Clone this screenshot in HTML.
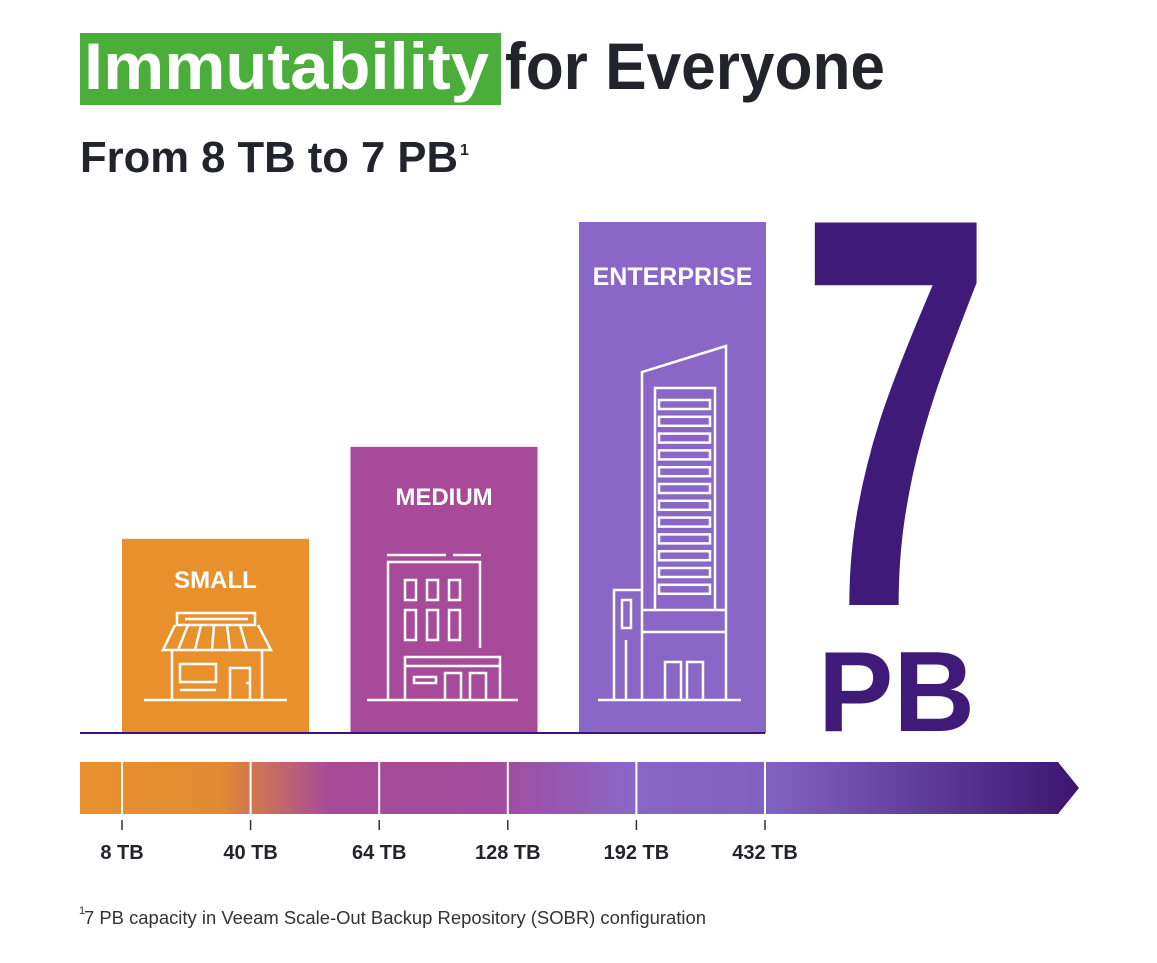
<!DOCTYPE html>
<html><head><meta charset="utf-8"><style>
html,body{margin:0;padding:0;background:#fff;}
svg{display:block;font-family:"Liberation Sans",sans-serif;}
</style></head><body>
<svg id="chart" width="1157" height="963" viewBox="0 0 1157 963">
<defs>
<linearGradient id="band" x1="80" x2="1079" y1="0" y2="0" gradientUnits="userSpaceOnUse">
<stop offset="0" stop-color="#E8912C"/>
<stop offset="0.14" stop-color="#E28A33"/>
<stop offset="0.25" stop-color="#A84A98"/>
<stop offset="0.42" stop-color="#A24C9E"/>
<stop offset="0.55" stop-color="#8A66C6"/>
<stop offset="0.70" stop-color="#8060C0"/>
<stop offset="1" stop-color="#3D1570"/>
</linearGradient>
</defs>
<rect x="80" y="33" width="421" height="72" fill="#4BAE3A"/>
<text x="84" y="89" font-size="66" font-weight="bold" fill="#fff" textLength="405" lengthAdjust="spacingAndGlyphs">Immutability</text>
<text x="505" y="89" font-size="66" font-weight="bold" fill="#23232b" textLength="380" lengthAdjust="spacingAndGlyphs">for Everyone</text>
<text x="80" y="172" font-size="44" font-weight="bold" fill="#23232b" textLength="378" lengthAdjust="spacingAndGlyphs">From 8 TB to 7 PB</text>
<text x="460" y="155" font-size="16" font-weight="bold" fill="#23232b">1</text>

<g id="bars"></g>
<line x1="80" y1="733" x2="765" y2="733" stroke="#3D1570" stroke-width="2"/>

<text transform="translate(800,605) scale(0.62,1)" font-size="556" font-weight="bold" fill="#3F1A78">7</text>
<text x="818" y="731" font-size="114" font-weight="bold" fill="#3F1A78" textLength="157" lengthAdjust="spacingAndGlyphs">PB</text>

<path d="M80 762 H1058 L1079 788 L1058 814 H80 Z" fill="url(#band)"/>
<g id="axis"></g>

<text x="84" y="924" font-size="18" fill="#333" textLength="622" lengthAdjust="spacingAndGlyphs">7 PB capacity in Veeam Scale-Out Backup Repository (SOBR) configuration</text>
<text x="79" y="914" font-size="11" fill="#333">1</text>

<g fill="none" stroke="#fff" stroke-width="2.5">
<line x1="144" y1="700" x2="287" y2="700"/>
<rect x="177" y="613" width="78" height="12"/><line x1="185" y1="619" x2="248" y2="619"/>
<path d="M175 625 L163 650 H271 L258 625"/>
<path d="M188 625 L178 650 M201 625 L195 650 M214 625 L212 650 M227 625 L230 650 M240 625 L247 650"/>
<path d="M172 650 V700 M262 650 V700"/>
<rect x="180" y="664" width="36" height="18"/><line x1="180" y1="690" x2="216" y2="690"/>
<path d="M230 700 V668 H250 V700 M246 683 H250"/>
</g>
<g fill="none" stroke="#fff" stroke-width="2.5">
<line x1="367" y1="700" x2="518" y2="700"/><line x1="387" y1="555" x2="446" y2="555"/><line x1="453" y1="555" x2="481" y2="555"/>
<path d="M388 700 V562 H480 V648"/>
<rect x="405" y="580" width="11" height="20"/><rect x="427" y="580" width="11" height="20"/><rect x="449" y="580" width="11" height="20"/>
<rect x="405" y="610" width="11" height="30"/><rect x="427" y="610" width="11" height="30"/><rect x="449" y="610" width="11" height="30"/>
<path d="M405 700 V657 H500 V700 M405 666 H500"/><rect x="414" y="677" width="22" height="6"/>
<path d="M445 700 V673 H461 V700 M470 700 V673 H486 V700"/>
</g>
<g fill="none" stroke="#fff" stroke-width="2.5">
<line x1="598" y1="700" x2="741" y2="700"/>
<path d="M614 700 V590 H641 M642 700 V372 L726 346 V700"/>
<path d="M655 610 V388 H715 V610 M642 610 H726 M642 632 H726"/>
<rect x="622" y="600" width="9" height="28"/><line x1="626" y1="640" x2="626" y2="700"/>
<path d="M665 700 V662 H681 V700 M687 700 V662 H703 V700"/>
<g id="floors"></g>
</g>
<script>
const categories = ["SMALL", "MEDIUM", "ENTERPRISE"];
const barValues = [38, 56, 100];
const barColors = ["#E8912C", "#A74A99", "#8A66C6"];
const tickLabels = ["8 TB", "40 TB", "64 TB", "128 TB", "192 TB", "432 TB"];
const NS = "http://www.w3.org/2000/svg";
const baseY = 733, maxH = 511, maxV = 100;
function yScale(v){ return baseY - v / maxV * maxH; }
function xBand(i){ return 122 + i * 228.5; }
const barW = 187;
const labelSize = [24, 24, 25];
const labelGap = [49, 58, 63];
const bg = document.getElementById("bars");
categories.forEach((c, i) => {
  const r = document.createElementNS(NS, "rect");
  
  
  r.setAttribute("x", xBand(i)); r.setAttribute("y", yScale(barValues[i]));
  r.setAttribute("width", barW); r.setAttribute("height", baseY - yScale(barValues[i]));
  r.setAttribute("fill", barColors[i]);
  bg.appendChild(r);
  const t = document.createElementNS(NS, "text");
  
  
  t.setAttribute("x", xBand(i) + barW / 2); t.setAttribute("y", yScale(barValues[i]) + labelGap[i]);
  t.setAttribute("text-anchor", "middle"); t.setAttribute("font-size", labelSize[i]);
  t.setAttribute("font-weight", "bold"); t.setAttribute("fill", "#fff");
  t.textContent = c;
  bg.appendChild(t);
});
function xTick(i){ return 122 + i * 128.6; }
const ag = document.getElementById("axis");
tickLabels.forEach((l, i) => {
  const x = xTick(i);
  const d = document.createElementNS(NS, "line");
  
  
  d.setAttribute("x1", x); d.setAttribute("x2", x); d.setAttribute("y1", 762); d.setAttribute("y2", 814);
  d.setAttribute("stroke", "#fff"); d.setAttribute("stroke-width", 2);
  ag.appendChild(d);
  const tk = document.createElementNS(NS, "line");
  
  
  tk.setAttribute("x1", x); tk.setAttribute("x2", x); tk.setAttribute("y1", 820); tk.setAttribute("y2", 830);
  tk.setAttribute("stroke", "#333"); tk.setAttribute("stroke-width", 1.5);
  ag.appendChild(tk);
  const t = document.createElementNS(NS, "text");
  
  
  t.setAttribute("x", x); t.setAttribute("y", 859); t.setAttribute("text-anchor", "middle");
  t.setAttribute("font-size", 20); t.setAttribute("font-weight", "bold"); t.setAttribute("fill", "#23232b");
  t.textContent = l;
  ag.appendChild(t);
});
const fg = document.getElementById("floors");
for (let k = 0; k < 12; k++) {
  const r = document.createElementNS(NS, "rect");
  
  
  r.setAttribute("x", 659); r.setAttribute("y", 400 + k * 16.8); r.setAttribute("width", 51); r.setAttribute("height", 9);
  fg.appendChild(r);
}
</script>
</svg>
</body></html>
